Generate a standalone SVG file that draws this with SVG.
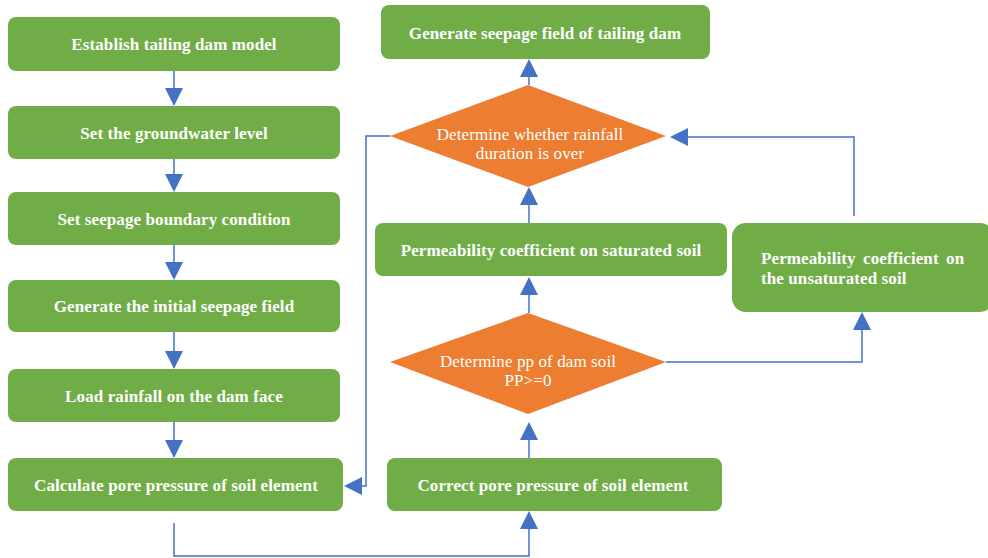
<svg xmlns="http://www.w3.org/2000/svg" width="988" height="558" viewBox="0 0 988 558">
<style>
.box{fill:#70AD47;}
.dia{fill:#ED7D31;}
.bt{font-family:"Liberation Serif",serif;font-size:17px;font-weight:bold;fill:#fff;text-anchor:middle;letter-spacing:0.1px;}
.dt{font-family:"Liberation Serif",serif;font-size:17px;fill:#fff;text-anchor:middle;letter-spacing:0.1px;}
.ln{fill:none;stroke:#4472C4;stroke-width:1.5;}
.ah{fill:#4472C4;}
</style>
<rect width="988" height="558" fill="#fff"/>
<g id="n1"><rect class="box" x="8" y="17" width="332" height="54" rx="8"/><text class="bt" x="174" y="50">Establish tailing dam model</text></g>
<g id="n2"><rect class="box" x="8" y="106" width="332" height="53" rx="8"/><text class="bt" x="174" y="139">Set the groundwater level</text></g>
<g id="n3"><rect class="box" x="8" y="192" width="332" height="53" rx="8"/><text class="bt" x="174" y="225">Set seepage boundary condition</text></g>
<g id="n4"><rect class="box" x="8" y="280" width="332" height="52" rx="8"/><text class="bt" x="174" y="312">Generate the initial seepage field</text></g>
<g id="n5"><rect class="box" x="8" y="369" width="332" height="53" rx="8"/><text class="bt" x="174" y="402">Load rainfall on the dam face</text></g>
<g id="n6"><rect class="box" x="8" y="458" width="335" height="53" rx="8"/><text class="bt" x="176" y="491">Calculate pore pressure of soil element</text></g>
<g id="n7"><rect class="box" x="381" y="5" width="329" height="54" rx="8"/><text class="bt" x="545" y="39">Generate seepage field of tailing dam</text></g>
<g id="n8"><polygon class="dia" points="528,85 666,136 528,187 390,136"/><text class="dt" x="530" y="140">Determine whether rainfall</text><text class="dt" x="530" y="159">duration is over</text></g>
<g id="n9"><rect class="box" x="375" y="223" width="352" height="53" rx="8"/><text class="bt" x="551" y="256">Permeability coefficient on saturated soil</text></g>
<g id="n10"><rect class="box" x="732" y="223" width="262" height="89" rx="14"/><text class="bt" x="761" y="264" style="text-anchor:start;word-spacing:3px">Permeability coefficient on</text><text class="bt" x="761" y="284" style="text-anchor:start">the unsaturated soil</text></g>
<g id="n11"><polygon class="dia" points="528,313 666,362 528,414 390,362"/><text class="dt" x="528" y="367">Determine pp of dam soil</text><text class="dt" x="528" y="386">PP&gt;=0</text></g>
<g id="n12"><rect class="box" x="387" y="458" width="335" height="53" rx="8"/><text class="bt" x="553" y="491">Correct pore pressure of soil element</text></g>
<g id="connectors">
<path class="ln" d="M174,71V89 M174,159V176 M174,245V262 M174,332V351 M174,422V440"/>
<polygon class="ah" points="165,88 183,88 174,106"/>
<polygon class="ah" points="165,174 183,174 174,192"/>
<polygon class="ah" points="165,262 183,262 174,280"/>
<polygon class="ah" points="165,351 183,351 174,369"/>
<polygon class="ah" points="165,440 183,440 174,458"/>
<path class="ln" d="M529,85V76"/>
<polygon class="ah" points="520,77 538,77 529,59"/>
<path class="ln" d="M529,223V204"/>
<polygon class="ah" points="520,205 538,205 529,187"/>
<path class="ln" d="M529,313V295"/>
<polygon class="ah" points="520,295 538,295 529,277"/>
<path class="ln" d="M529,458V440"/>
<polygon class="ah" points="520,440 538,440 529,422"/>
<path class="ln" d="M174,523V556H529V529"/>
<polygon class="ah" points="520,529 538,529 529,511"/>
<path class="ln" d="M390,136H366V486H361"/>
<polygon class="ah" points="362,477 362,495 344,486"/>
<path class="ln" d="M854,216V137H687"/>
<polygon class="ah" points="688,128 688,146 670,137"/>
<path class="ln" d="M666,362H862V330"/>
<polygon class="ah" points="853,330 871,330 862,312"/>
</g>
</svg>
